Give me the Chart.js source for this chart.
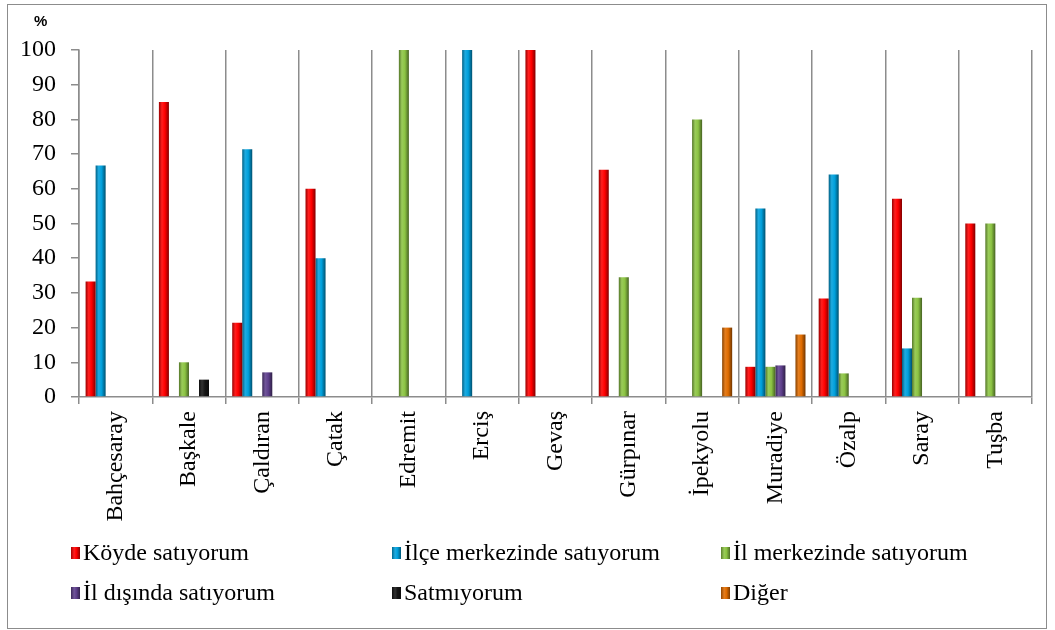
<!DOCTYPE html>
<html>
<head>
<meta charset="utf-8">
<script src="https://cdn.jsdelivr.net/npm/chart.js@4"></script>
<style>
  html, body { margin: 0; padding: 0; background: #fff; }
  #wrap { position: relative; width: 1055px; height: 630px; }
  #frame { position: absolute; left: 7px; top: 4px; width: 1040px; height: 625px;
           border: 1.5px solid #8c8c8c; box-sizing: border-box; pointer-events: none; }
  #chart { position: absolute; left: 0; top: 0; }
  #pct { position: absolute; left: 34px; top: 12px; font: bold 15px "Liberation Sans", Arial, sans-serif; }
  .leg { position: absolute; font-family: "Liberation Serif", "Times New Roman", serif; font-size: 24px;
         line-height: 24px; white-space: nowrap; color: #000; }
  .leg i { display: inline-block; width: 9px; height: 12px; margin-right: 3px; vertical-align: 1px; }
</style>
</head>
<body>
<div id="wrap">
  <canvas id="chart" width="1055" height="630"></canvas>
  <div id="frame"></div>
  <div id="pct">%</div>
  <div id="legend"></div>
</div>
<script>
// districts
const districts = ['Bahçesaray', 'Başkale', 'Çaldıran', 'Çatak', 'Edremit', 'Erciş', 'Gevaş',
                   'Gürpınar', 'İpekyolu', 'Muradiye', 'Özalp', 'Saray', 'Tuşba'];

const seriesNames = ['Köyde satıyorum', 'İlçe merkezinde satıyorum', 'İl merkezinde satıyorum',
                     'İl dışında satıyorum', 'Satmıyorum', 'Diğer'];

// percentages per district (null = no bar)
const koyde     = [33.3, 85, 21.4, 60, null, null, 100, 65.5, null, 8.7, 28.4, 57.1, 50];
const ilce      = [66.7, null, 71.4, 40, null, 100, null, null, null, 54.3, 64.1, 14.0, null];
const ilMerkez  = [null, 10, null, null, 100, null, null, 34.5, 80, 8.7, 6.8, 28.6, 50];
const ilDisi    = [null, null, 7.1, null, null, null, null, null, null, 9.1, null, null, null];
const satmiyor  = [null, 5, null, null, null, null, null, null, null, null, null, null, null];
const diger     = [null, null, null, null, null, null, null, null, 20, 18.0, null, null, null];

const yTicks = [0, 10, 20, 30, 40, 50, 60, 70, 80, 90, 100];

const colors = ['#ff0000', '#00a0dc', '#8cc443', '#5e3f8c', '#161616', '#e06c00'];
const legendPos = [[71, 540], [392, 540], [721, 540], [71, 580], [392, 580], [721, 580]];

const CAT_PCT = 0.82;

function shade(hex, f) {
  const n = parseInt(hex.slice(1), 16);
  let r = (n >> 16) & 255, g = (n >> 8) & 255, b = n & 255;
  const m = v => Math.max(0, Math.min(255, Math.round(f < 0 ? v * (1 + f) : v + (255 - v) * f)));
  return 'rgb(' + m(r) + ',' + m(g) + ',' + m(b) + ')';
}

// legend (HTML, three columns like the original)
const leg = document.getElementById('legend');
seriesNames.forEach((name, i) => {
  const d = document.createElement('div');
  d.className = 'leg';
  d.style.left = legendPos[i][0] + 'px';
  d.style.top = legendPos[i][1] + 'px';
  const c = colors[i];
  d.innerHTML = '<i style="background:linear-gradient(90deg,' + shade(c, -0.35) + ',' + shade(c, 0.12) + ' 35%,' + c + ' 60%,' + shade(c, -0.45) + ')"></i>' + name;
  leg.appendChild(d);
});

function barFill(ctx) {
  const chart = ctx.chart, xs = chart.scales.x;
  const base = colors[ctx.datasetIndex];
  if (!xs || ctx.dataIndex === undefined || !chart.chartArea) return base;
  const catW = xs.width / districts.length;
  const bw = catW * CAT_PCT / 6;
  const cx = xs.getPixelForValue(ctx.dataIndex) + (ctx.datasetIndex - 2.5) * bw;
  if (!isFinite(cx) || !isFinite(bw) || bw <= 0) return base;
  const g = chart.ctx.createLinearGradient(cx - bw / 2, 0, cx + bw / 2, 0);
  g.addColorStop(0, shade(base, -0.4));
  g.addColorStop(0.3, shade(base, 0.12));
  g.addColorStop(0.6, base);
  g.addColorStop(1, shade(base, -0.5));
  return g;
}

const seriesData = [koyde, ilce, ilMerkez, ilDisi, satmiyor, diger];

const gridGray = '#8c8c8c';
const serif = { family: '"Liberation Serif", "Times New Roman", serif', size: 24 };

new Chart(document.getElementById('chart'), {
  type: 'bar',
  data: {
    labels: districts,
    datasets: seriesData.map((d, i) => ({
      label: seriesNames[i],
      data: d,
      backgroundColor: barFill,
      borderWidth: 0,
      barPercentage: 1,
      categoryPercentage: CAT_PCT
    }))
  },
  options: {
    responsive: false,
    animation: false,
    layout: { padding: { left: 10, right: 23, top: 50, bottom: 103 } },
    plugins: { legend: { display: false }, tooltip: { enabled: false } },
    scales: {
      x: {
        grid: { color: gridGray, lineWidth: 1.5, tickLength: 7, offset: true },
        border: { color: gridGray, width: 1.5 },
        ticks: { font: serif, color: '#000', minRotation: 90, maxRotation: 90, padding: 7 },
        afterFit: s => { s.height = 130; }
      },
      y: {
        min: 0, max: 100,
        afterBuildTicks: s => { s.ticks = yTicks.map(v => ({ value: v })); },
        grid: { drawOnChartArea: false, color: gridGray, lineWidth: 1.5, tickLength: 8 },
        border: { color: gridGray, width: 1.5 },
        ticks: { font: serif, color: '#000', padding: 15 },
        afterFit: s => { s.width = 69; }
      }
    }
  }
});
</script>
</body>
</html>
